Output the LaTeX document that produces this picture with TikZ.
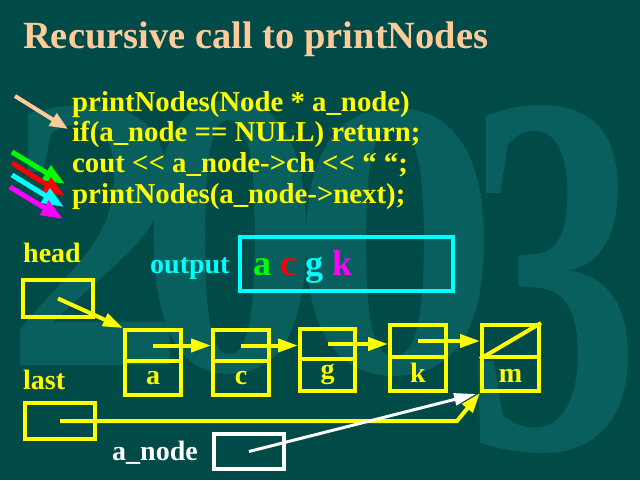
\documentclass[tikz,border=0pt]{standalone}
\usepackage{fontspec}
\setmainfont{Liberation Serif}
\usetikzlibrary{arrows.meta}
\definecolor{bg}{HTML}{004A48}
\definecolor{wmc}{HTML}{095F5E}
\definecolor{peach}{HTML}{FFCC99}
\definecolor{yel}{HTML}{FFFF00}
\definecolor{cy}{HTML}{00FFFF}
\definecolor{gr}{HTML}{00FF00}
\definecolor{rd}{HTML}{FF0000}
\definecolor{mg}{HTML}{FF00FF}
\newcommand{\lsh}{<\kern0pt<}
\begin{document}
\begin{tikzpicture}[x=1pt,y=-1pt,
  wmark/.style={inner sep=0pt, anchor=north west, text=wmc, font=\bfseries\fontsize{300}{300}\selectfont},
  txt/.style={inner sep=0pt, anchor=base west, font=\bfseries\fontsize{28}{30}\selectfont},
  code/.style={inner sep=0pt, anchor=base west, text=yel, font=\bfseries\fontsize{28.8}{30}\selectfont},
  lbl/.style={inner sep=0pt, anchor=base, text=yel, font=\bfseries\fontsize{28}{30}\selectfont},
  cell/.style={draw=yel, line width=4pt, inner sep=0pt, minimum width=56pt},
  ybox/.style={draw=yel, line width=4pt, inner sep=0pt, minimum width=70pt, minimum height=36pt},
  ptr/.style={draw=yel, line width=4pt, -{Triangle[length=20pt,width=13pt]}},
  wptr/.style={draw=white, line width=3pt, -{Triangle[length=22pt,width=12pt]}},
  farrow/.style={line width=5pt, -{Triangle[length=22pt,width=16pt]}}
]
\useasboundingbox (0,0) rectangle (640,480);
\fill[bg] (0,0) rectangle (640,480);

% watermark 2003
\node[wmark] (w1) at (5,105) {\resizebox{180pt}{260pt}{2}};
\node[wmark] (w2) at (140,100) {\resizebox{180pt}{270pt}{0}};
\node[wmark] (w3) at (290,108) {\resizebox{210pt}{264pt}{0}};
\node[wmark] (w4) at (465,105) {\resizebox{175pt}{343pt}{3}};

% title
\node[inner sep=0pt, anchor=base west, text=peach, font=\bfseries\fontsize{38.5}{40}\selectfont] (title) at (23,48) {Recursive call to printNodes};

% code
\node[code] (l1) at (72,111) {printNodes(Node * a\_node)};
\node[code] (l2) at (72,141) {if(a\_node == NULL) return;};
\node[code] (l3) at (72,172) {cout \lsh{} a\_node->ch \lsh{} “ “;};
\node[code] (l4) at (72,203) {printNodes(a\_node->next);};

% left arrows
\coordinate (p0) at (15,96);  \coordinate (p1) at (68,129);
\draw[draw=peach, line width=4pt, -{Triangle[length=18pt,width=14pt]}] (p0) -- (p1);
\coordinate (g0) at (12,152); \coordinate (g1) at (65,184);
\coordinate (r0) at (12,163); \coordinate (r1) at (65,196);
\coordinate (c0) at (12,175); \coordinate (c1) at (64,207);
\coordinate (m0) at (10,187); \coordinate (m1) at (63,219);
\draw[farrow, draw=gr] (g0) -- (g1);
\draw[farrow, draw=rd] (r0) -- (r1);
\draw[farrow, draw=cy] (c0) -- (c1);
\draw[farrow, draw=mg] (m0) -- (m1);

% labels
\node[txt, text=yel] (headlbl) at (23,262) {head};
\node[txt, text=yel] (lastlbl) at (23,389) {last};
\node[txt, text=cy] (outlbl) at (150,273) {output};
\node[txt, text=white] (anodelbl) at (112,460) {a\_node};

% output box
\node[draw=cy, line width=4pt, inner sep=0pt, minimum width=213pt, minimum height=54pt] (outbox) at (346.5,264) {};
\node[inner sep=0pt, anchor=base west, font=\bfseries\fontsize{36}{38}\selectfont] (outtxt) at (253,275)
  {\textcolor{gr}{a} \textcolor{rd}{c} \textcolor{cy}{g} \textcolor{mg}{k}};

% pointer boxes
\node[ybox, minimum height=37pt] (headbox) at (58,298.5) {};
\node[ybox] (lastbox) at (60,421) {};
\node[draw=white, line width=4pt, inner sep=0pt, minimum width=70pt, minimum height=35pt] (anodebox) at (249,451.5) {};

% list nodes
\node[cell, minimum height=31pt] (aT) at (153,345.5) {};
\node[cell, minimum height=34pt] (aB) at (153,378) {};
\node[cell, minimum height=31pt] (cT) at (241,345.5) {};
\node[cell, minimum height=34pt] (cB) at (241,378) {};
\node[cell, minimum width=55pt, minimum height=30pt] (gT) at (327.5,344) {};
\node[cell, minimum width=55pt, minimum height=32pt] (gB) at (327.5,375) {};
\node[cell, minimum height=32pt] (kT) at (418,341) {};
\node[cell, minimum height=34pt] (kB) at (418,374) {};
\node[cell, minimum width=57pt, minimum height=32pt] (mT) at (510.5,341) {};
\node[cell, minimum width=57pt, minimum height=34pt] (mB) at (510.5,374) {};
\draw[draw=yel, line width=4pt] (mT.north east) -- (mT.south west);

\node[lbl] (la) at (153,384) {a};
\node[lbl] (lc) at (241,384) {c};
\node[lbl] (lg) at (327.5,378) {g};
\node[lbl] (lk) at (418,382) {k};
\node[lbl] (lm) at (510.5,382) {m};

% connectors
\draw[ptr] (headbox.center) -- (aT.north west);
\draw[ptr] (aT.center) -- (aT.center -| cT.west);
\draw[ptr] (cT.center) -- (cT.center -| gT.west);
\draw[ptr] (gT.center) -- (gT.center -| kT.west);
\draw[ptr] (kT.center) -- (kT.center -| mT.west);
\coordinate (bend) at (457,421);
\draw[ptr] (lastbox.center) -- (bend) -- (mB.south west);
\draw[wptr, shorten >=4pt] (anodebox.center) -- (mB.south west);
\end{tikzpicture}
\end{document}
